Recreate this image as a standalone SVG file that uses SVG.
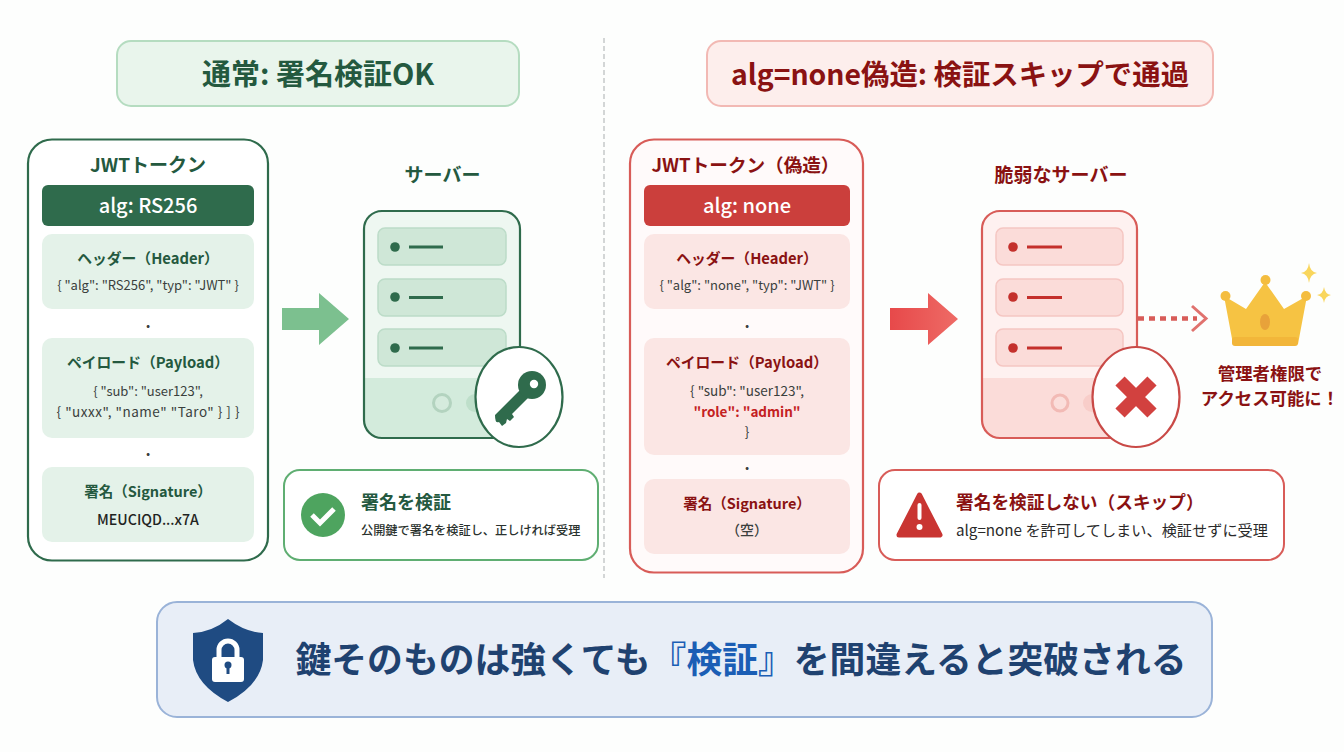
<svg xmlns="http://www.w3.org/2000/svg" width="1344" height="752" viewBox="0 0 1344 752">
<defs>
<style>
text{font-family:"Noto Sans CJK JP","Noto Sans",sans-serif;text-anchor:middle}
.b{font-weight:700}.m{font-weight:500}
.g{fill:#24593f}.r{fill:#8a1212}.k{fill:#3a3f3d}
.gs{fill:#e4f2e9}.rs{fill:#fbe6e4}
.st{text-anchor:start}
</style>
<linearGradient id="redArrow" x1="0" x2="1" y1="0" y2="0"><stop offset="0" stop-color="#e7494a"/><stop offset="1" stop-color="#ee6b66"/></linearGradient>
</defs>
<rect width="1344" height="752" fill="#fdfefd"/>
<line x1="604" y1="38" x2="604" y2="578" stroke="#c9cccc" stroke-width="1.600" stroke-dasharray="5 3"/>
<g id="title-normal"><rect x="117" y="41" width="402" height="65" rx="14" fill="#e9f5ec" stroke="#b5dcc0" stroke-width="2"/><text x="318" y="85" font-size="29" class="b g">通常: 署名検証OK</text></g>
<g id="title-forged"><rect x="707" y="41" width="506" height="65" rx="14" fill="#fdeeec" stroke="#f2b9b4" stroke-width="2"/><text x="960" y="85" font-size="28.400" class="b r">alg=none偽造: 検証スキップで通過</text></g>

<g id="jwt-normal">
<rect x="28" y="139.500" width="240" height="421" rx="24" fill="#fff" stroke="#2f6b4c" stroke-width="2.200"/>
<text x="148" y="172" font-size="19" class="b g">JWTトークン</text>
<rect x="42" y="185" width="212" height="41" rx="6" fill="#2f6b4c"/>
<text x="148" y="213" font-size="20" class="m" fill="#fff">alg: RS256</text>
<rect x="42" y="234" width="212" height="75" rx="10" class="gs"/>
<text x="148" y="264" font-size="14.800" class="b g">ヘッダー（Header）</text>
<text x="148" y="290" font-size="13" class="k">{ "alg": "RS256", "typ": "JWT" }</text>
<text x="148" y="328" font-size="16" class="b k">.</text>
<rect x="42" y="338" width="212" height="100" rx="10" class="gs"/>
<text x="148" y="368" font-size="14.800" class="b g">ペイロード（Payload）</text>
<text x="148" y="396" font-size="13" class="k">{ "sub": "user123",</text>
<text x="148" y="417" font-size="13.500" class="k" textLength="183">{ "uxxx", "name" "Taro" } ] }</text>
<text x="148" y="456" font-size="16" class="b k">.</text>
<rect x="42" y="467" width="212" height="75" rx="10" class="gs"/>
<text x="148" y="497" font-size="14.500" class="b g">署名（Signature）</text>
<text x="148" y="525" font-size="14.200" class="m" fill="#1f2422">MEUCIQD...x7A</text>
</g>

<g id="jwt-forged">
<rect x="630" y="139.500" width="233" height="433" rx="24" fill="#fffafa" stroke="#d85c58" stroke-width="2.200"/>
<text x="745.500" y="172" font-size="18.600" class="b r">JWTトークン（偽造）</text>
<rect x="644" y="185" width="206" height="41" rx="6" fill="#cb3f3c"/>
<text x="747" y="213" font-size="20" class="m" fill="#fff">alg: none</text>
<rect x="644" y="234" width="206" height="75" rx="10" class="rs"/>
<text x="747" y="264" font-size="14.800" class="b r">ヘッダー（Header）</text>
<text x="747" y="290" font-size="13" class="k">{ "alg": "none", "typ": "JWT" }</text>
<text x="747" y="328" font-size="16" class="b k">.</text>
<rect x="644" y="338" width="206" height="117" rx="10" class="rs"/>
<text x="747" y="368" font-size="14.800" class="b r">ペイロード（Payload）</text>
<text x="747" y="396" font-size="13.500" class="k">{ "sub": "user123",</text>
<text x="747" y="417" font-size="13.500" class="b" fill="#c4211f">"role": "admin"</text>
<text x="747" y="437" font-size="13.500" class="k">}</text>
<text x="747" y="470" font-size="16" class="b k">.</text>
<rect x="644" y="479" width="206" height="75" rx="10" class="rs"/>
<text x="747" y="509" font-size="14.500" class="b r">署名（Signature）</text>
<text x="747" y="535" font-size="14" class="m k">（空）</text>
</g>

<g id="connectors">
<path d="M282 308H319V293L349 319L319 345V330H282Z" fill="#7cc08f"/>
<path d="M890 308H928V293L958 319L928 345V330H890Z" fill="url(#redArrow)"/>
<path d="M1138 318.500H1197" fill="none" stroke="#d85c58" stroke-width="4.500" stroke-dasharray="6 5"/>
<path d="M1192 306L1206 318.500L1192 331" fill="none" stroke="#e0726e" stroke-width="3"/>
</g>

<g id="server-normal">
<text x="442.500" y="182" font-size="19" class="b g">サーバー</text>
<rect x="364" y="211" width="156" height="227" rx="18" fill="#eef7f1"/>
<path d="M364 378H520V420a18 18 0 0 1-18 18H382a18 18 0 0 1-18-18Z" fill="#d3ebdc"/>
<rect x="364" y="211" width="156" height="227" rx="18" fill="none" stroke="#2f6b4c" stroke-width="2.200"/>
<g fill="#cfe7d7" stroke="#bcdcc8" stroke-width="1.500">
<rect x="378" y="228" width="128" height="37" rx="7"/><rect x="378" y="279" width="128" height="37" rx="7"/><rect x="378" y="329" width="128" height="37" rx="7"/>
</g>
<g fill="#2f6b4c"><circle cx="395" cy="247" r="4.800"/><circle cx="395" cy="297" r="4.800"/><circle cx="395" cy="348" r="4.800"/>
<rect x="409" y="245.500" width="34" height="3"/><rect x="409" y="296" width="34" height="3"/><rect x="409" y="346.500" width="34" height="3"/></g>
<circle cx="442" cy="403" r="8.500" fill="#d5ebdd" stroke="#b3d3bf" stroke-width="3"/>
<circle cx="475" cy="403" r="9" fill="#bedfca"/>
<ellipse cx="519" cy="397" rx="43.500" ry="50" fill="#fff" stroke="#2f6b4c" stroke-width="2.200"/>
<g id="key" fill="#2f6b4c">
<path d="M495 415L521 389L529 397L512 414L514 417L510 421L507 419L506 423L502 426L499 422Q495 424 495 415Z"/>
<circle cx="532" cy="385" r="14"/><circle cx="534" cy="384" r="4.200" fill="#fff"/></g>
</g>

<g id="server-vuln">
<text x="1061" y="182" font-size="19" class="b r">脆弱なサーバー</text>
<rect x="982" y="211" width="155" height="227" rx="18" fill="#fef1f0"/>
<path d="M982 378H1137V420a18 18 0 0 1-18 18H1000a18 18 0 0 1-18-18Z" fill="#fbdcd9"/>
<rect x="982" y="211" width="155" height="227" rx="18" fill="none" stroke="#d85c58" stroke-width="2.200"/>
<g fill="#fbdcd9" stroke="#f5c6c2" stroke-width="1.500">
<rect x="996" y="228" width="127" height="37" rx="7"/><rect x="996" y="279" width="127" height="37" rx="7"/><rect x="996" y="329" width="127" height="37" rx="7"/>
</g>
<g fill="#c4302c"><circle cx="1013" cy="247" r="4.800"/><circle cx="1013" cy="297" r="4.800"/><circle cx="1013" cy="348" r="4.800"/>
<rect x="1027" y="245.500" width="35" height="3"/><rect x="1027" y="296" width="35" height="3"/><rect x="1027" y="346.500" width="35" height="3"/></g>
<circle cx="1060" cy="403" r="8" fill="#fbdedb" stroke="#f2bab5" stroke-width="3"/>
<circle cx="1092" cy="403" r="9" fill="#f8cdc9"/>
<ellipse cx="1136" cy="397" rx="43.500" ry="50" fill="#fff" stroke="#c94a47" stroke-width="2.200"/>
<path d="M1120 381L1152 413M1152 381L1120 413" stroke="#d2413f" stroke-width="13" fill="none"/>
</g>

<g id="crown">
<path d="M1224 296L1233 344H1298L1307 296L1284 309L1265 282L1246 309Z" fill="#f6c343"/>
<rect x="1232" y="337" width="66" height="9" rx="3" fill="#f2b63a"/>
<circle cx="1225.500" cy="296" r="5" fill="#f4bd3f"/><circle cx="1265.500" cy="280" r="5" fill="#f4bd3f"/><circle cx="1306" cy="296" r="5" fill="#f4bd3f"/>
<ellipse cx="1265" cy="322" rx="5" ry="8" fill="#e8a23a"/>
<path d="M1309 263Q1310 272 1317 273Q1310 274 1309 283Q1308 274 1301 273Q1308 272 1309 263Z" fill="#f9d65c"/>
<path d="M1324 287Q1325 294 1331 295Q1325 296 1324 303Q1323 296 1317 295Q1323 294 1324 287Z" fill="#f9d65c"/>
<text x="1270" y="380" font-size="17.400" class="b r">管理者権限で</text>
<text x="1270" y="405" font-size="17.400" class="b r">アクセス可能に！</text>
</g>

<g id="verify-normal">
<rect x="284" y="470" width="314" height="90" rx="16" fill="#fff" stroke="#5fae72" stroke-width="2"/>
<circle cx="323" cy="515" r="22" fill="#4ea45f"/>
<path d="M312 515L320 523L334 509" fill="none" stroke="#fff" stroke-width="5"/>
<text x="361" y="509" font-size="18" class="b g st">署名を検証</text>
<text x="361" y="535" font-size="12.200" class="m st" fill="#2a322e">公開鍵で署名を検証し、正しければ受理</text>
</g>

<g id="verify-vuln">
<rect x="879" y="470" width="405" height="90" rx="16" fill="#fff" stroke="#d85c58" stroke-width="2"/>
<path d="M919.500 495L940 535H899Z" fill="#c93532" stroke="#c93532" stroke-width="5" stroke-linejoin="round"/>
<rect x="917.500" y="503" width="4" height="17" rx="2" fill="#fff"/><circle cx="919.500" cy="527" r="3" fill="#fff"/>
<text x="956" y="509" font-size="17.700" class="b r st">署名を検証しない（スキップ）</text>
<text x="956" y="536" font-size="15.200" class="st" fill="#2a2a2a">alg=none を許可してしまい、検証せずに受理</text>
</g>

<g id="banner">
<rect x="157" y="602" width="1055" height="115" rx="20" fill="#e8eef7" stroke="#9ab3d8" stroke-width="2"/>
<path d="M228 619Q245 632 263 633V660Q260 685 228 702Q196 685 193 660V633Q212 632 228 619Z" fill="#1f4b82"/>
<rect x="212" y="657" width="32" height="25" rx="3" fill="#fff"/>
<path d="M219 660V650a9 9 0 0 1 18 0V660" fill="none" stroke="#fff" stroke-width="5"/>
<circle cx="228" cy="665" r="3.500" fill="#1f4b82"/><rect x="226.500" y="665" width="3" height="9" fill="#1f4b82"/>
<text x="741" y="673" font-size="35.800" class="b" fill="#1f4270">鍵そのものは強くても<tspan fill="#1b5eb5">『検証』</tspan>を間違えると突破される</text>
</g>
</svg>
